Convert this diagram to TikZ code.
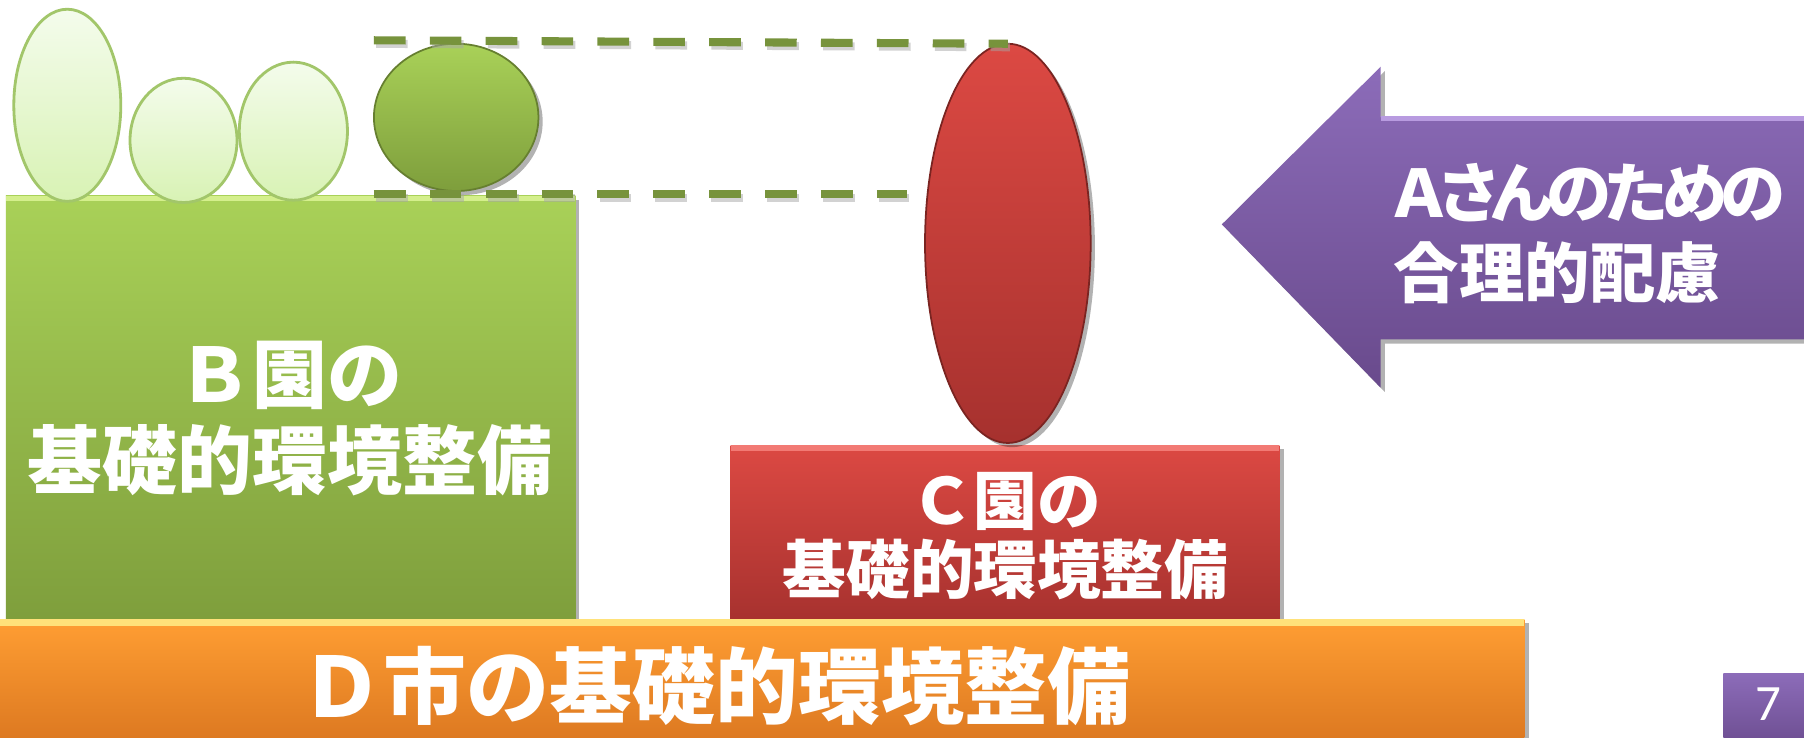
\documentclass[tikz,border=0pt]{standalone}
\usepackage{fontspec}
\newfontfamily\jp{Noto Sans CJK JP}
\newfontfamily\numfont{Carlito}
\usetikzlibrary{shadows,shapes.geometric}
\newdimen\pxu \pxu=0.011505cm
\definecolor{lgTop}{HTML}{F4FCEC}
\definecolor{lgBot}{HTML}{D8F2B4}
\definecolor{lgLine}{HTML}{A2C66A}
\definecolor{gTop}{HTML}{A9D158}
\definecolor{gBot}{HTML}{7E9E3C}
\definecolor{gHi}{HTML}{D4EF8C}
\definecolor{gDark}{HTML}{667F30}
\definecolor{dashG}{HTML}{77933C}
\definecolor{rTop}{HTML}{DC4943}
\definecolor{rBot}{HTML}{A6312E}
\definecolor{rHi}{HTML}{F27A74}
\definecolor{rDark}{HTML}{7A2421}
\definecolor{oTop}{HTML}{FF9E33}
\definecolor{oBot}{HTML}{DB7720}
\definecolor{oHi}{HTML}{FFE27A}
\definecolor{pTop}{HTML}{8C6CB9}
\definecolor{pBot}{HTML}{694A8C}
\definecolor{pHi}{HTML}{B89BE0}
\tikzset{
  shadowed/.style={drop shadow={shadow xshift=1.2pt,shadow yshift=-1.2pt,opacity=0.3,fill=black}},
  lightegg/.style={ellipse,inner sep=0pt,outer sep=0pt,draw=lgLine,line width=0.8pt,top color=lgTop,bottom color=lgBot},
  greenegg/.style={ellipse,inner sep=0pt,outer sep=0pt,draw=gDark,line width=0.5pt,top color=gTop,bottom color=gBot,shadowed},
  redegg/.style={ellipse,inner sep=0pt,outer sep=0pt,draw=rDark,line width=0.5pt,top color=rTop,bottom color=rBot,shadowed},
  gbox/.style={rectangle,inner sep=0pt,outer sep=0pt,top color=gTop,bottom color=gBot,shadowed},
  rbox/.style={rectangle,inner sep=0pt,outer sep=0pt,top color=rTop,bottom color=rBot,shadowed},
  obox/.style={rectangle,inner sep=0pt,outer sep=0pt,top color=oTop,bottom color=oBot,shadowed},
  pbox/.style={rectangle,inner sep=0pt,outer sep=0pt,top color=pTop,bottom color=pBot,shadowed},
  gdash/.style={draw=dashG,line width=2.3pt,dash pattern=on 9pt off 6.9pt},
  gdashshadow/.style={draw=black!35,opacity=0.5,line width=2.3pt,dash pattern=on 9pt off 6.9pt},
  wtext/.style={text=white,align=center,inner sep=0pt},
}
\begin{document}
\begin{tikzpicture}[x=0.011505cm,y=-0.011505cm]
\useasboundingbox (0,0) rectangle (1568,641);
\clip (0,0) rectangle (1568,641);
\fill[white] (0,0) rectangle (1568,641);

% B box
\node[gbox,minimum width=495*\pxu,minimum height=372*\pxu] (boxB) at (252.5,356) {};
\draw[gHi,line width=1.6pt] ([yshift=-0.8pt]boxB.north west) -- ([yshift=-0.8pt]boxB.north east);

% light ellipses
\node[lightegg,minimum width=93*\pxu,minimum height=167*\pxu] (e1) at (58.5,91.5) {};
\node[lightegg,minimum width=93*\pxu,minimum height=108*\pxu] (e2) at (159.5,122) {};
\node[lightegg,minimum width=94*\pxu,minimum height=120*\pxu] (e3) at (255,114) {};

% green circle
\node[greenegg,minimum width=143*\pxu,minimum height=128*\pxu] (gc) at (396.5,102) {};

% C box
\node[rbox,minimum width=477*\pxu,minimum height=155*\pxu] (boxC) at (873.5,464.5) {};
\draw[rHi,line width=1.6pt] ([yshift=-0.8pt]boxC.north west) -- ([yshift=-0.8pt]boxC.north east);

% red ellipse
\node[redegg,minimum width=144*\pxu,minimum height=347*\pxu] (re) at (876,211.5) {};

% dashed guide lines
\coordinate (t1) at (325,35);
\coordinate (b1) at (325,169);
\coordinate (b2) at (788,169);
\draw[gdashshadow] ([xshift=0.6pt,yshift=-1pt]t1) -- ([xshift=0.6pt,yshift=-1pt]re.north);
\draw[gdashshadow] ([xshift=0.6pt,yshift=-1pt]b1) -- ([xshift=0.6pt,yshift=-1pt]b2);
\draw[gdash] (t1) -- (re.north);
\draw[gdash] (b1) -- (b2);

% D bar
\node[obox,minimum width=1340*\pxu,minimum height=110*\pxu] (boxD) at (655,593) {};
\draw[oHi,line width=2pt] ([yshift=-1pt]boxD.north west) -- ([yshift=-1pt]boxD.north east);

% purple arrow
\path[top color=pTop,bottom color=pBot,shadowed]
  (1062,195) -- (1200,58) -- (1200,102) -- (1580,102) -- (1580,295) -- (1200,295) -- (1200,337) -- cycle;
\draw[pHi,line width=1.2pt] (1200,103) -- (1580,103);

% page number box
\node[pbox,minimum width=75*\pxu,minimum height=70*\pxu] (pg) at (1535.5,620) {};

% texts
\node[wtext,font={\jp\bfseries\fontsize{21.3pt}{24.5pt}\selectfont}] (tB) at (252,364) {Ｂ園の\\基礎的環境整備};
\node[wtext,font={\jp\bfseries\fontsize{18.1pt}{19.6pt}\selectfont}] (tC) at (874,466) {Ｃ園の\\基礎的環境整備};
\node[wtext,font={\jp\bfseries\fontsize{23.6pt}{26pt}\selectfont}] (tD) at (622,596) {Ｄ市の基礎的環境整備};
\node[wtext,align=left,anchor=west,font={\jp\bfseries\fontsize{18.6pt}{22.9pt}\selectfont}] (tA) at (1211,203) {{\addfontfeature{RawFeature=+palt,LetterSpace=-9}Ａさんのための}\\合理的配慮};
\node[text=white,inner sep=0pt,font={\numfont\fontsize{14.5pt}{16pt}\selectfont}] (t7) at (1537,612) {7};
\end{tikzpicture}
\end{document}
